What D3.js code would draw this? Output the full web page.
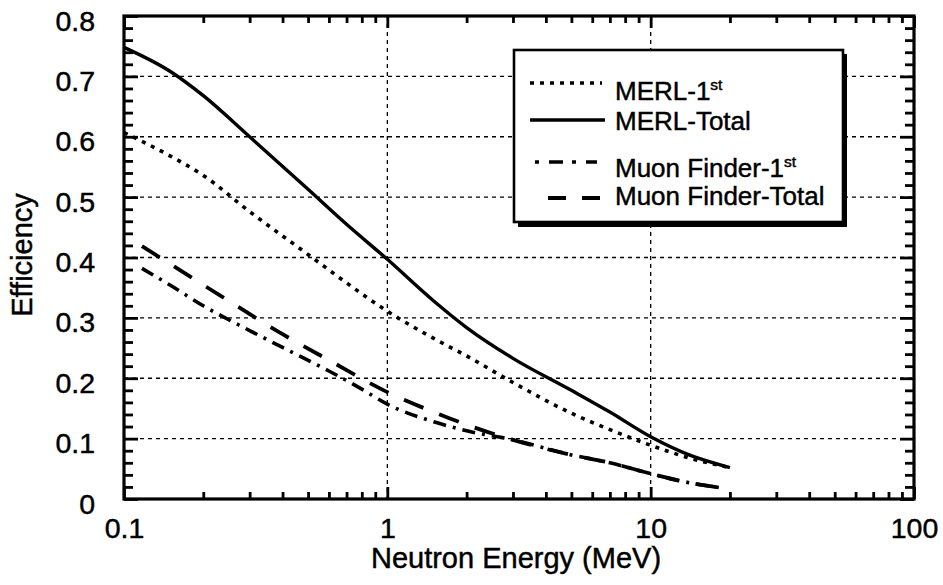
<!DOCTYPE html>
<html><head><meta charset="utf-8">
<script src="https://cdn.jsdelivr.net/npm/d3@7"></script>
<style>
html,body{margin:0;padding:0;background:#fff;}
text{font-family:"Liberation Sans",Arial,Helvetica,sans-serif;fill:#000;stroke:#000;stroke-width:0.45px;}
</style></head>
<body><svg id="c" width="943" height="585"></svg>
<script>
// ---- data ----
const merlTotalE = [0.1,0.15,0.2,0.3,0.5,0.7,1.0,1.5,2.0,3.0,5.0,7.0,10,14,20];
const merlTotalV = [0.748,0.708,0.668,0.600,0.513,0.455,0.397,0.328,0.284,0.233,0.180,0.144,0.103,0.073,0.052];
const merl1stE = [0.1,0.15,0.2,0.3,0.5,0.7,1.0,1.5,2.0,3.0,5.0,7.0,10,14,20];
const merl1stV = [0.607,0.568,0.536,0.476,0.405,0.358,0.311,0.266,0.237,0.193,0.142,0.115,0.089,0.068,0.052];
const muonTotalE = [0.117,0.17,0.25,0.4,0.6,1.0,1.5,2.0,3.0,5.0,7.0,10,14,19];
const muonTotalV = [0.419,0.374,0.328,0.273,0.23,0.177,0.144,0.123,0.098,0.073,0.06,0.042,0.027,0.018];
const muon1stE = [0.117,0.15,0.2,0.3,0.4,0.6,0.8,1.0,1.5,2.0,3.0,5.0,7.0,10,14,19];
const muon1stV = [0.382,0.354,0.32,0.279,0.251,0.212,0.182,0.157,0.128,0.113,0.098,0.073,0.06,0.042,0.027,0.018];
const xTicks = [0.1,1,10,100];
const xTickLabels = ["0.1","1","10","100"];
const yTicks = [0,0.1,0.2,0.3,0.4,0.5,0.6,0.7,0.8];
const yTickLabels = ["0","0.1","0.2","0.3","0.4","0.5","0.6","0.7","0.8"];
const seriesNames = ["MERL-1","MERL-Total","Muon Finder-1","Muon Finder-Total"];

// ---- layout ----
const L=124, R=914, T=16, B=499;
const svg = d3.select("#c");
const x = d3.scaleLog().domain([0.1,100]).range([L,R]);
const y = d3.scaleLinear().domain([0,0.8]).range([B,T]);

// grid
const grid = svg.append("g").attr("stroke","#000").attr("stroke-width",1.3).attr("stroke-dasharray","4,4");
yTicks.filter(v=>v>0&&v<0.8).forEach(v=>{
  grid.append("line").attr("x1",L).attr("x2",R).attr("y1",y(v)).attr("y2",y(v));
});
xTicks.filter(v=>v>0.1&&v<100).forEach(v=>{
  grid.append("line").attr("x1",x(v)).attr("x2",x(v)).attr("y1",T).attr("y2",B);
});

// axes (ticks inward on all sides)
const xMinor = [];
for(let d=0.1; d<100; d*=10){ for(let k=2;k<=9;k++) xMinor.push(+(d*k).toPrecision(3)); }
const yMinor = d3.range(0,41).map(i=>+(i*0.02).toFixed(2)).filter(v=>Math.round(v*100)%10!==0);

const gBottom = svg.append("g").attr("transform",`translate(0,${B})`)
  .call(d3.axisBottom(x).tickValues(xTicks).tickFormat((d,i)=>xTickLabels[i]).tickSizeInner(-12).tickSizeOuter(0).tickPadding(24));
const gBottomMinor = svg.append("g").attr("transform",`translate(0,${B})`)
  .call(d3.axisBottom(x).tickValues(xMinor).tickFormat("").tickSizeInner(-7).tickSizeOuter(0));
const gTop = svg.append("g").attr("transform",`translate(0,${T})`)
  .call(d3.axisTop(x).tickValues(xTicks).tickFormat("").tickSizeInner(-12).tickSizeOuter(0));
const gTopMinor = svg.append("g").attr("transform",`translate(0,${T})`)
  .call(d3.axisTop(x).tickValues(xMinor).tickFormat("").tickSizeInner(-7).tickSizeOuter(0));
const gLeft = svg.append("g").attr("transform",`translate(${L},0)`)
  .call(d3.axisLeft(y).tickValues(yTicks).tickFormat((d,i)=>yTickLabels[i]).tickSizeInner(-14).tickSizeOuter(0).tickPadding(29));
const gLeftMinor = svg.append("g").attr("transform",`translate(${L},0)`)
  .call(d3.axisLeft(y).tickValues(yMinor).tickFormat("").tickSizeInner(-9).tickSizeOuter(0));
const gRight = svg.append("g").attr("transform",`translate(${R},0)`)
  .call(d3.axisRight(y).tickValues(yTicks).tickFormat("").tickSizeInner(-14).tickSizeOuter(0));
const gRightMinor = svg.append("g").attr("transform",`translate(${R},0)`)
  .call(d3.axisRight(y).tickValues(yMinor).tickFormat("").tickSizeInner(-9).tickSizeOuter(0));
[gBottom,gBottomMinor,gTop,gTopMinor,gLeft,gLeftMinor,gRight,gRightMinor].forEach(g=>{
  g.select(".domain").remove();
  g.selectAll(".tick line").attr("stroke","#000").attr("stroke-width",2.8);
  g.selectAll(".tick text").attr("font-size",28.5).attr("font-family","Liberation Sans, Arial, sans-serif").attr("fill","#000");
});
gBottom.selectAll(".tick text").attr("dy","0.71em").attr("y",19);
gLeft.selectAll(".tick text").attr("dy","0").attr("y",14).attr("x",-29);

// frame
svg.append("rect").attr("x",L).attr("y",T).attr("width",R-L).attr("height",B-T)
  .attr("fill","none").attr("stroke","#000").attr("stroke-width",3.2);

// series
const line = d3.line().x(d=>x(d[0])).y(d=>y(d[1])).curve(d3.curveMonotoneX);
const series = [
  {E:merl1stE, V:merl1stV, w:3.6, dash:"4,6"},
  {E:merlTotalE, V:merlTotalV, w:3.4, dash:null},
  {E:muon1stE, V:muon1stV, w:3.6, dash:"13,7,3,7"},
  {E:muonTotalE, V:muonTotalV, w:3.8, dash:"21,17"}
];
const plot = svg.append("g");
series.forEach(s=>{
  const p = plot.append("path").datum(s.E.map((e,i)=>[e,s.V[i]]))
    .attr("d",line).attr("fill","none").attr("stroke","#000").attr("stroke-width",s.w);
  if(s.dash) p.attr("stroke-dasharray",s.dash);
});

// legend
const lg = svg.append("g");
lg.append("rect").attr("x",518).attr("y",54).attr("width",329).attr("height",173).attr("fill","#000");
lg.append("rect").attr("x",514).attr("y",50).attr("width",329).attr("height",172).attr("fill","#fff").attr("stroke","#000").attr("stroke-width",2.6);
const legRows = [
  {x1:530,x2:602,ly:83, ty:100, sup:true},
  {x1:530,x2:605,ly:120,ty:130, sup:false},
  {x1:535,x2:597,ly:162,ty:177, sup:true},
  {x1:548,x2:602,ly:198,ty:205, sup:false}
];
legRows.forEach((r,i)=>{
  const s = series[i];
  const l = lg.append("line").attr("x1",r.x1).attr("x2",r.x2).attr("y1",r.ly).attr("y2",r.ly)
    .attr("stroke","#000").attr("stroke-width",s.w);
  if(s.dash) l.attr("stroke-dasharray", i===3 ? "18,16" : (i===2 ? "4,10,14,9" : s.dash));
  const t = lg.append("text").attr("x",615).attr("y",r.ty).attr("font-size",26).text(seriesNames[i]);
  if(r.sup) t.append("tspan").attr("dy",-10).attr("font-size",15.5).text("st");
});

// axis titles
svg.append("text").attr("x",516).attr("y",568).attr("text-anchor","middle").attr("font-size",29).text("Neutron Energy (MeV)");
svg.append("text").attr("transform","translate(32,255) rotate(-90)").attr("text-anchor","middle").attr("font-size",29).text("Efficiency");
</script></body></html>
